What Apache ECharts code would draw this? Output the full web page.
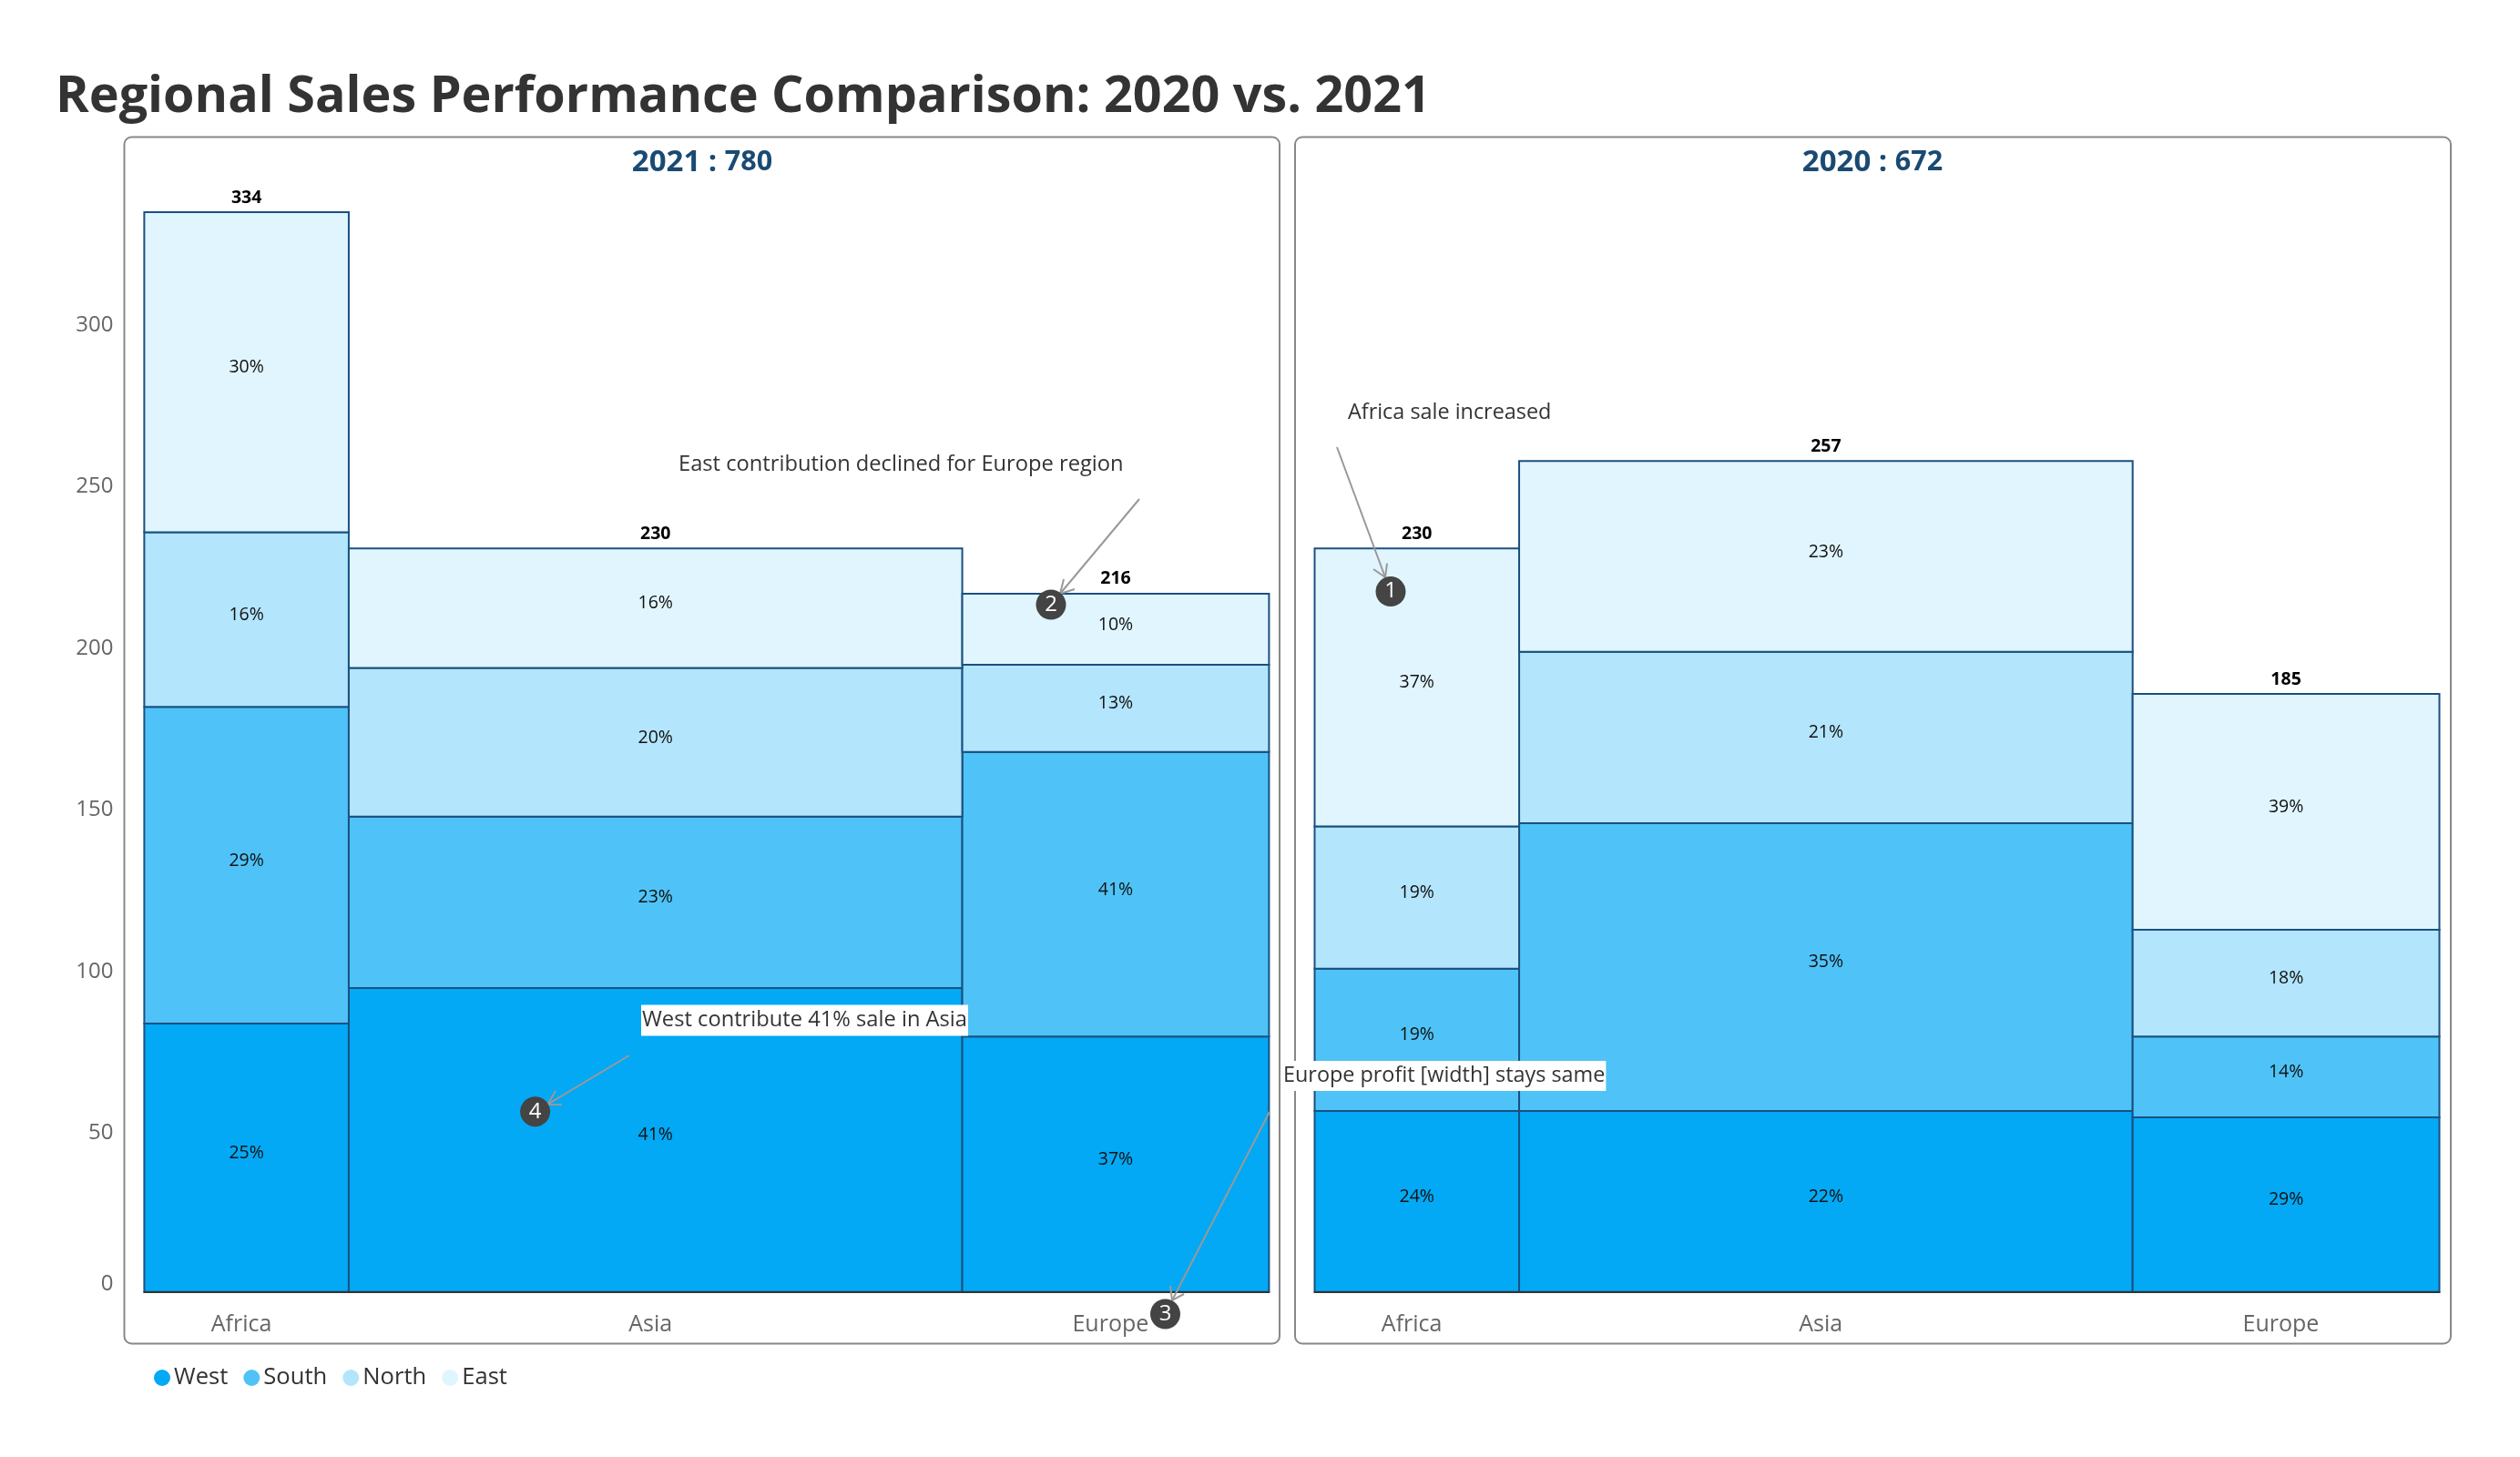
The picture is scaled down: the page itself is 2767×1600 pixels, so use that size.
<!DOCTYPE html>
<html><head><meta charset="utf-8"><style>html,body{margin:0;background:#fff}#c{width:2767px;height:1600px}</style>
<script src="https://cdn.jsdelivr.net/npm/echarts@6/dist/echarts.min.js"></script></head><body><div id="c"></div>
<script>
const categories=['Africa','Asia','Europe'];
const categoryLabelAt=[0.95,4.95,9.45];
const regions=['West','South','North','East'];
const regionColors=['#03A9F4','#4FC3F7','#B3E5FC','#E1F5FE'];
const widths=[2,6,3];
const west2021=[83,94,79], south2021=[98,53,88], north2021=[54,46,27], east2021=[99,37,22];
const west2020=[56,56,54], south2020=[44,89,25], north2020=[44,53,33], east2020=[86,59,73];
const FONT='Open Sans', EDGE='#1A5080';

const panels=[
 {x:158.4,name:'2021',stacks:[west2021,south2021,north2021,east2021]},
 {x:1443.5,name:'2020',stacks:[west2020,south2020,north2020,east2020]}];
const PW=1235,GT=176.2,GH=1242.5;
function rectItem(params,api){
 const a=api.coord([api.value(0),api.value(3)]),b=api.coord([api.value(1),api.value(2)]);
 return {type:'group',children:[
  {type:'rect',shape:{x:a[0],y:a[1],width:b[0]-a[0],height:b[1]-a[1]},style:{fill:api.visual('color'),stroke:EDGE,lineWidth:2}},
  {type:'text',z2:5,style:{text:api.value(4)+'%',x:(a[0]+b[0])/2,y:(a[1]+b[1])/2-5,align:'center',verticalAlign:'middle',fontSize:19.5,fontFamily:FONT,fill:'#111'}}
 ]};
}
function totalItem(params,api){
 const a=api.coord([(api.value(0)+api.value(1))/2,api.value(2)]);
 return {type:'text',style:{text:String(api.value(2)),x:a[0],y:a[1]-16,align:'center',verticalAlign:'middle',fontSize:19.5,fontWeight:'bold',fontFamily:FONT,fill:'#000'}};
}
const grids=[],xAxes=[],yAxes=[],series=[],titles=[];
titles.push({text:'Regional Sales Performance Comparison: 2020 vs. 2021',left:56,top:74,textStyle:{fontSize:55.7,fontWeight:'bold',fontFamily:FONT,color:'#333'}});
panels.forEach((p,i)=>{
 grids.push({left:p.x,top:GT,width:PW,height:GH});
 xAxes.push({gridIndex:i,type:'value',min:0,max:11,z:5,splitLine:{show:false},axisTick:{show:false},
  axisLine:{show:true,onZero:false,lineStyle:{color:'#333',width:2}},
  axisLabel:{customValues:categoryLabelAt,margin:24,fontSize:25,fontFamily:FONT,color:'#666',formatter:v=>categories[categoryLabelAt.indexOf(v)]||''}});
 yAxes.push({gridIndex:i,type:'value',min:0,max:350,interval:50,splitLine:{show:false},axisTick:{show:false},axisLine:{show:false},
  axisLabel:{show:i===0,margin:34,fontSize:24,fontFamily:FONT,color:'#666',showMaxLabel:false,
   formatter:v=>v===0?'{z|0}':'{n|'+v+'}',
   rich:{n:{fontSize:24,fontFamily:FONT,color:'#666',padding:[6,0,0,0]},z:{fontSize:24,fontFamily:FONT,color:'#666',padding:[0,0,18,0]}}}});
 const totals=categories.map((c,k)=>p.stacks.reduce((s,a)=>s+a[k],0));
 const edges=[];let run=0;widths.forEach(w=>{edges.push([run,run+w]);run+=w;});
 const base=categories.map(()=>0);
 p.stacks.forEach((vals,r)=>{
  const data=vals.map((v,k)=>{const d=[edges[k][0],edges[k][1],base[k],base[k]+v,Math.round(v/totals[k]*100)];base[k]+=v;return d;});
  series.push({type:'custom',name:regions[r],xAxisIndex:i,yAxisIndex:i,itemStyle:{color:regionColors[r]},encode:{x:[0,1],y:[2,3]},data,renderItem:rectItem,silent:true,z:2});
 });
 series.push({type:'custom',name:'Total',xAxisIndex:i,yAxisIndex:i,encode:{x:[0,1],y:2},data:totals.map((t,k)=>[edges[k][0],edges[k][1],t]),renderItem:totalItem,silent:true,z:3});
 const total=totals.reduce((a,b)=>a+b,0);
 titles.push({text:'{a|'+p.name+' : }{b|'+total+'}',left:i===0?766:2051,top:157,textAlign:'center',textStyle:{rich:{a:{fontSize:33,fontWeight:'bold',fontFamily:FONT,color:'#1A4A72'},b:{fontSize:30.5,fontWeight:'bold',fontFamily:FONT,color:'#1A4A72'}}}});
});
function note(text,x,y,bg,size){
 return {type:'text',z:100,style:{text,x,y,align:'left',verticalAlign:'middle',fontSize:size||23.7,fontFamily:FONT,fill:'#333',backgroundColor:bg?'#fff':undefined,padding:bg?[5,1,5,1]:0}};
}
function arrow(x1,y1,x2,y2){
 return {type:'polyline',z:99,shape:{points:[[x1,y1],[x2,y2]]},style:{stroke:'#999',lineWidth:2,fill:null}};
}
function head(x2,y2,h1,h2){return {type:'polyline',z:99,shape:{points:[h1,[x2,y2],h2]},style:{stroke:'#999',lineWidth:2,fill:null}};}
function badge(n,x,y){return [{type:'circle',z:101,shape:{cx:x,cy:y,r:16.5},style:{fill:'#444'}},{type:'text',z:102,style:{text:n,x,y,align:'center',verticalAlign:'middle',fontSize:24,fontFamily:FONT,fill:'#fff'}}];}
const graphic=[
 {type:'rect',z:-1,shape:{x:136.5,y:150.5,width:1268.5,height:1325,r:8},style:{fill:'#fff',stroke:'#888',lineWidth:2}},
 {type:'rect',z:-1,shape:{x:1422,y:150.5,width:1269,height:1325,r:8},style:{fill:'#fff',stroke:'#888',lineWidth:2}},
 note('East contribution declined for Europe region',745,510),
 arrow(1251,548,1164,652),head(1164,652,[1168,636],[1180,647]),...badge('2',1154,664),
 note('Africa sale increased',1480,453,false,23.4),
 arrow(1468,491,1521,634),head(1521,634,[1508,625],[1523,618.6]),...badge('1',1527,649.6),
 note('Europe profit [width] stays same',1408,1181.5,true,23.4),
 arrow(1394,1221,1287,1428),head(1287,1428,[1285,1412],[1300,1421]),...badge('3',1279.5,1443),
 note('West contribute 41% sale in Asia',704,1120.5,true),
 arrow(691,1159,601.4,1212.7),head(601.4,1212.7,[610,1198],[617,1213]),...badge('4',587.6,1220.7)
];
const chart=echarts.init(document.getElementById('c'));
chart.setOption({animation:false,backgroundColor:'#fff',title:titles,grid:grids,xAxis:xAxes,yAxis:yAxes,series,graphic,
 legend:{data:regions,left:164,top:1495,icon:'circle',itemWidth:18,itemHeight:18,itemGap:17,textStyle:{fontSize:25.6,fontFamily:FONT,color:'#333',padding:[0,0,0,-1]}}});
</script></body></html>
